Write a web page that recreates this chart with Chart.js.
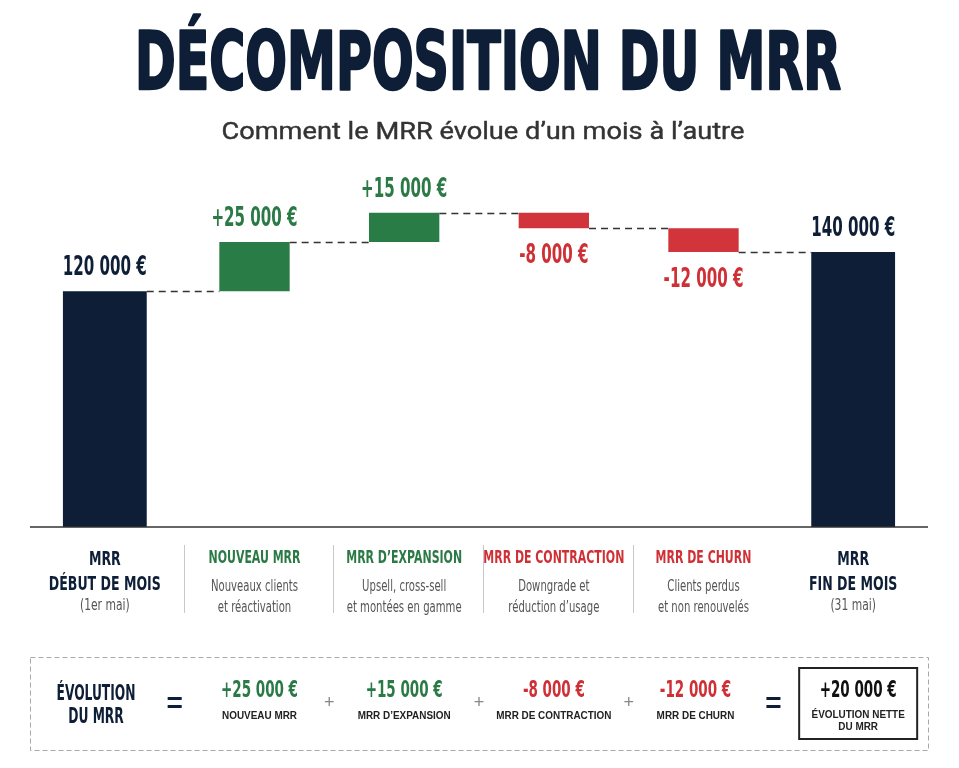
<!DOCTYPE html>
<html lang="fr">
<head>
<meta charset="utf-8">
<title>Décomposition du MRR</title>
<script src="https://cdn.jsdelivr.net/npm/chart.js@4.4.1/dist/chart.umd.min.js"></script>
<style>
  html, body { margin: 0; padding: 0; background: #fff; }
  #wrap { position: relative; width: 959px; height: 768px; }
  canvas { display: block; }
</style>
</head>
<body>
<div id="wrap"><canvas id="chart-mrr" width="959" height="768"></canvas></div>
<script>
// Données
const categories = ["MRR DÉBUT DE MOIS", "NOUVEAU MRR", "MRR D’EXPANSION", "MRR DE CONTRACTION", "MRR DE CHURN", "MRR FIN DE MOIS"];
const catTitles = [["MRR", "DÉBUT DE MOIS"], ["NOUVEAU MRR"], ["MRR D’EXPANSION"], ["MRR DE CONTRACTION"], ["MRR DE CHURN"], ["MRR", "FIN DE MOIS"]];
const catNotes = [["(1er mai)"], ["Nouveaux clients", "et réactivation"], ["Upsell, cross-sell", "et montées en gamme"], ["Downgrade et", "réduction d’usage"], ["Clients perdus", "et non renouvelés"], ["(31 mai)"]];
const startMRR = 120000;
const changes = [25000, 15000, -8000, -12000];
const endMRR = 140000;
const netChange = 20000;

const NAVY = "#0d1e36", GREEN = "#2a7c47", RED = "#d1343a";
const GREEN_TXT = "#2b7a46", RED_TXT = "#cf3036", GRAY = "#555";
const NARROW = "'Liberation Sans Narrow', 'DejaVu Sans Condensed', 'Roboto Condensed', sans-serif";
const SANS = "'Liberation Sans', Arial, sans-serif";

// niveaux cumulés
const levels = [startMRR];
changes.forEach(c => levels.push(levels[levels.length - 1] + c));

const totalData = categories.map((c, i) => i === 0 ? [0, startMRR] : i === categories.length - 1 ? [0, endMRR] : null);
const deltaData = categories.map((c, i) => (i > 0 && i <= changes.length) ? [levels[i - 1], levels[i]] : null);
const deltaColors = categories.map((c, i) => (i > 0 && i <= changes.length) ? (changes[i - 1] >= 0 ? GREEN : RED) : GREEN);

function fmt(v, signed) {
    const s = String(Math.abs(v)).replace(/\B(?=(\d{3})+(?!\d))/g, " ") + " €";
    if (!signed) return s;
    return (v >= 0 ? "+" : "-") + s;
}

function fitScale(ctx, font, sample, width) {
    ctx.save();
    ctx.font = font;
    const w = ctx.measureText(sample).width;
    ctx.restore();
    return width / w;
}

function txt(ctx, str, x, y, font, color, sx, baseline, stroke) {
    ctx.save();
    ctx.font = font;
    ctx.fillStyle = color;
    ctx.textAlign = "center";
    ctx.textBaseline = baseline || "alphabetic";
    ctx.translate(x, y);
    ctx.scale(sx || 1, 1);
    if (stroke) {
        ctx.strokeStyle = color;
        ctx.lineWidth = stroke;
        ctx.lineJoin = "round";
        ctx.strokeText(str, 0, 0);
    }
    ctx.fillText(str, 0, 0);
    ctx.restore();
}

const decorPlugin = {
    id: "decor",
    afterDraw(chart) {
        const ctx = chart.ctx;
        const xs = chart.scales.x, ys = chart.scales.y;
        const area = chart.chartArea;
        const y0 = ys.getPixelForValue(0);

        // titre
        const fTitle = "bold 80px " + NARROW;
        txt(ctx, "DÉCOMPOSITION DU MRR", 488, 89, fTitle, NAVY, fitScale(ctx, fTitle, "DÉCOMPOSITION DU MRR", 706), null, 2.5);
        const fSub = "24px Roboto, sans-serif";
        const sub = "Comment le MRR évolue d’un mois à l’autre";
        txt(ctx, sub, 483, 139, fSub, "#333", fitScale(ctx, fSub, sub, 523), null, 0.4);

        // ligne de base
        ctx.save();
        ctx.strokeStyle = "#333";
        ctx.lineWidth = 1.5;
        ctx.beginPath();
        ctx.moveTo(area.left, y0);
        ctx.lineTo(area.right, y0);
        ctx.stroke();
        ctx.restore();

        const barAt = i => {
            const m = chart.getDatasetMeta(totalData[i] ? 0 : 1);
            return m.data[i];
        };

        // connecteurs pointillés
        ctx.save();
        ctx.strokeStyle = "#333";
        ctx.lineWidth = 1.5;
        ctx.setLineDash([7, 5]);
        for (let i = 0; i < levels.length; i++) {
            const a = barAt(i), b = barAt(i + 1);
            const py = Math.round(ys.getPixelForValue(levels[i])) + 0.5;
            ctx.beginPath();
            ctx.moveTo(a.x + a.width / 2, py);
            ctx.lineTo(b.x - b.width / 2, py);
            ctx.stroke();
        }
        ctx.restore();

        // étiquettes de valeur
        const fVal = "bold 26px " + NARROW;
        const sVal = fitScale(ctx, fVal, "120 000 €", 84);
        categories.forEach((c, i) => {
            const el = barAt(i);
            let v, signed = false, col = NAVY, top, bottom;
            if (totalData[i]) {
                v = totalData[i][1];
                top = ys.getPixelForValue(v);
            } else {
                v = changes[i - 1];
                signed = true;
                col = v >= 0 ? GREEN_TXT : RED_TXT;
                top = ys.getPixelForValue(Math.max(...deltaData[i]));
                bottom = ys.getPixelForValue(Math.min(...deltaData[i]));
            }
            if (signed && v < 0) txt(ctx, fmt(v, true), el.x, bottom + 35, fVal, col, sVal);
            else txt(ctx, fmt(v, signed), el.x, top - 16, fVal, col, sVal);
        });

        // libellés de catégories
        const fCat = "bold 17px " + NARROW;
        const sCat = fitScale(ctx, fCat, "NOUVEAU MRR", 92);
        const fBig = "bold 20px " + NARROW;
        const sBig = fitScale(ctx, fBig, "DÉBUT DE MOIS", 112);
        const fNote = "15px " + NARROW;
        const sNote = fitScale(ctx, fNote, "Nouveaux clients", 87);
        categories.forEach((c, i) => {
            const cx = xs.getPixelForValue(i);
            if (catTitles[i].length === 2) {
                txt(ctx, catTitles[i][0], cx, 565, fBig, NAVY, sBig);
                txt(ctx, catTitles[i][1], cx, 590, fBig, NAVY, sBig);
                txt(ctx, catNotes[i][0], cx, 610, "16px " + NARROW, GRAY, sNote);
            } else {
                const col = changes[i - 1] >= 0 ? GREEN_TXT : RED_TXT;
                txt(ctx, catTitles[i][0], cx, 563, fCat, col, sCat);
                txt(ctx, catNotes[i][0], cx, 591, fNote, GRAY, sNote);
                txt(ctx, catNotes[i][1], cx, 612, fNote, GRAY, sNote);
            }
        });

        // séparateurs
        ctx.save();
        ctx.strokeStyle = "#c8c8c8";
        ctx.lineWidth = 1;
        for (let i = 0; i < changes.length; i++) {
            const sx = Math.round((xs.getPixelForValue(i) + xs.getPixelForValue(i + 1)) / 2) + 4.5;
            ctx.beginPath();
            ctx.moveTo(sx, 545);
            ctx.lineTo(sx, 613);
            ctx.stroke();
        }
        ctx.restore();

        // encadré de l'équation
        ctx.save();
        ctx.strokeStyle = "#a8a8a8";
        ctx.lineWidth = 1;
        ctx.setLineDash([5, 3]);
        ctx.strokeRect(area.left + 0.5, 657.5, area.right - area.left, 93);
        ctx.restore();

        const fEq = "bold 22px " + NARROW;
        const sEq = fitScale(ctx, fEq, "ÉVOLUTION", 79);
        txt(ctx, "ÉVOLUTION", 96, 700, fEq, NAVY, sEq);
        txt(ctx, "DU MRR", 96, 723, fEq, NAVY, sEq);

        const fOpEq = "bold 28px " + SANS;
        const fOpPlus = "18px " + SANS;
        const fTerm = "bold 23px " + NARROW;
        const sTerm = fitScale(ctx, fTerm, "+25 000 €", 77);
        const fLab = "bold 11px " + SANS;
        const sLab = fitScale(ctx, fLab, "NOUVEAU MRR", 75);
        txt(ctx, "=", (xs.getPixelForValue(0) + xs.getPixelForValue(1)) / 2 - 5, 704, fOpEq, NAVY, 1, "middle");
        changes.forEach((v, k) => {
            const i = k + 1;
            const cx = xs.getPixelForValue(i) + (k === 0 ? 5 : k === 3 ? -8 : 0);
            txt(ctx, fmt(v, true), cx, 697, fTerm, v >= 0 ? GREEN_TXT : RED_TXT, sTerm);
            txt(ctx, catTitles[i][0], cx, 719, fLab, "#222", sLab);
            if (k < changes.length - 1) {
                const px = (xs.getPixelForValue(i) + xs.getPixelForValue(i + 1)) / 2;
                txt(ctx, "+", px, 703, fOpPlus, "#888", 1, "middle");
            }
        });
        const last = categories.length - 1;
        txt(ctx, "=", (xs.getPixelForValue(last - 1) + xs.getPixelForValue(last)) / 2 - 5, 704, fOpEq, NAVY, 1, "middle");

        const bx = xs.getPixelForValue(last) + 5;
        ctx.save();
        ctx.strokeStyle = "#222";
        ctx.lineWidth = 2;
        ctx.strokeRect(bx - 59, 668, 118, 71);
        ctx.restore();
        txt(ctx, fmt(netChange, true), bx, 697, fTerm, "#111", sTerm);
        txt(ctx, "ÉVOLUTION NETTE", bx, 718, fLab, "#222", sLab);
        txt(ctx, "DU MRR", bx, 730, fLab, "#222", sLab);
    }
};

document.addEventListener("DOMContentLoaded", () => {
    const ctx = document.getElementById("chart-mrr").getContext("2d");

    // Graphique en cascade (waterfall) du MRR
    const mrrChart = new Chart(ctx, {
        type: "bar",
        data: {
            labels: categories,
            datasets: [{
                label: "MRR",
                data: totalData,
                backgroundColor: NAVY,
                barPercentage: 0.56,
                categoryPercentage: 1,
                grouped: false,
                borderSkipped: false
            }, {
                label: "Variation",
                data: deltaData,
                backgroundColor: deltaColors,
                barPercentage: 0.47,
                categoryPercentage: 1,
                grouped: false,
                borderSkipped: false
            }]
        },
        options: {
            responsive: false,
            animation: false,
            layout: { padding: { left: 30, right: 31, top: 193, bottom: 241 } },
            plugins: { legend: { display: false }, tooltip: { enabled: false } },
            scales: {
                x: { display: false },
                y: { display: false, min: 0, max: 170000 }
            }
        },
        plugins: [decorPlugin]
    });
});
</script>
</body>
</html>
